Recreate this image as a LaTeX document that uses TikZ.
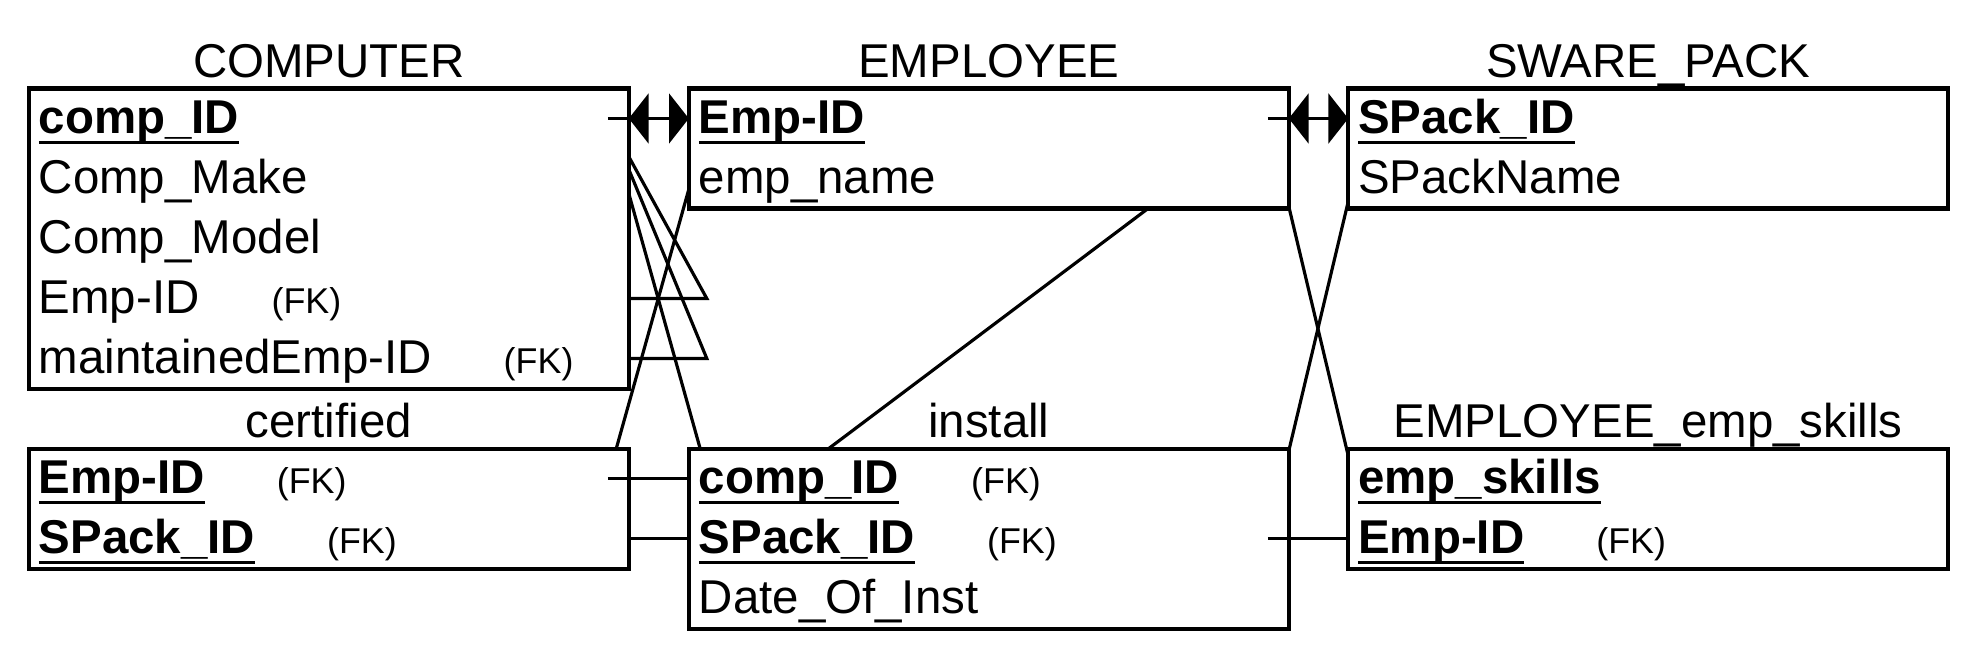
\documentclass[tikz,border=0pt]{standalone}
\usepackage{fontspec}
\setmainfont{Liberation Sans}
\usetikzlibrary{positioning,arrows.meta,backgrounds}

\newcommand{\rowfont}{\fontsize{22.5pt}{27pt}\selectfont}
\newcommand{\fkfont}{\fontsize{17pt}{20pt}\selectfont}
\newsavebox{\pkbox}
\newcommand{\pkey}[1]{\sbox{\pkbox}{\textbf{#1}}%
  \rlap{\rule[-0.17cm]{\wd\pkbox}{1.5pt}}\usebox{\pkbox}}
\newcommand{\fkey}{\hspace{1.2cm}{\fkfont (FK)}}

\begin{document}
\begin{tikzpicture}[
    font=\rowfont,
    tbl/.style={draw, fill=white, line width=1.9pt, minimum width=10cm,
      inner sep=0pt, outer sep=0pt, anchor=north west},
    row/.style={anchor=north, text width=9.666cm, align=left, inner xsep=0.167cm,
      inner ysep=0.1cm, outer sep=0pt, text height=0.65cm, text depth=0.15cm},
    title/.style={inner sep=0pt, text depth=0pt},
    conn/.style={line width=1.5pt},
    onetoone/.style={conn, {Triangle[length=0.33cm,width=0.83cm]}-{Triangle[length=0.33cm,width=0.83cm]}}
  ]
  \useasboundingbox (0,0) rectangle (32.933,-10.933);

  % tables, top line
  \node[tbl, minimum height=5cm] (comp) at (0.48,-1.475) {};
  \node[row] (cp1) at (comp.north) {\pkey{comp\_ID}};
  \node[row, below=0pt of cp1] (cp2) {Comp\_Make};
  \node[row, below=0pt of cp2] (cp3) {Comp\_Model};
  \node[row, below=0pt of cp3] (cp4) {Emp-ID\fkey};
  \node[row, below=0pt of cp4] (cp5) {maintainedEmp-ID\fkey};
  \node[title, above=0.18cm of comp] {COMPUTER};

  \node[tbl, minimum height=2cm] (emp) at (11.48,-1.475) {};
  \node[row] (em1) at (emp.north) {\pkey{Emp-ID}};
  \node[row, below=0pt of em1] (em2) {emp\_name};
  \node[title, above=0.18cm of emp] {EMPLOYEE};

  \node[tbl, minimum height=2cm] (spack) at (22.47,-1.475) {};
  \node[row] (sp1) at (spack.north) {\pkey{SPack\_ID}};
  \node[row, below=0pt of sp1] (sp2) {SPackName};
  \node[title, above=0.18cm of spack] {SWARE\_PACK};

  % tables, bottom line
  \node[tbl, minimum height=2cm] (cert) at (0.48,-7.48) {};
  \node[row] (ct1) at (cert.north) {\pkey{Emp-ID}\fkey};
  \node[row, below=0pt of ct1] (ct2) {\pkey{SPack\_ID}\fkey};
  \node[title, above=0.18cm of cert] {certified};

  \node[tbl, minimum height=3cm] (inst) at (11.48,-7.48) {};
  \node[row] (in1) at (inst.north) {\pkey{comp\_ID}\fkey};
  \node[row, below=0pt of in1] (in2) {\pkey{SPack\_ID}\fkey};
  \node[row, below=0pt of in2] (in3) {Date\_Of\_Inst};
  \node[title, above=0.18cm of inst] {install};

  \node[tbl, minimum height=2cm] (skill) at (22.47,-7.48) {};
  \node[row] (sk1) at (skill.north) {\pkey{emp\_skills}};
  \node[row, below=0pt of sk1] (sk2) {\pkey{Emp-ID}\fkey};
  \node[title, above=0.18cm of skill] {EMPLOYEE\_emp\_skills};

  % ports
  \coordinate (cp1r) at ([xshift=-0.35cm]cp1.east);
  \coordinate (cp4k) at ([xshift=1.3cm]cp4.east);
  \coordinate (cp5k) at ([xshift=1.3cm]cp5.east);
  \coordinate (em1l) at ([xshift=0.33cm]em1.west);
  \coordinate (em1r) at ([xshift=-0.35cm]em1.east);
  \coordinate (sp1l) at ([xshift=0.33cm]sp1.west);
  \coordinate (ct1r) at ([xshift=-0.35cm]ct1.east);
  \coordinate (in1l) at ([xshift=0.33cm]in1.west);
  \coordinate (in2l) at ([xshift=0.33cm]in2.west);
  \coordinate (in2r) at ([xshift=-0.35cm]in2.east);
  \coordinate (sk2l) at ([xshift=0.33cm]sk2.west);

  % links behind the tables
  \begin{pgfonlayer}{background}
    \draw[conn] (cp1r) -- (cp4k) -- (cp4.east);
    \draw[conn] (cp1r) -- (cp5k) -- (cp5.east);
    \draw[conn] (cp1r) -- (in1l);
    \draw[conn] (ct1r) -- (em1l);
    \draw[conn] (em1r) -- (in2l);
    \draw[conn] (em1r) -- (sk2l);
    \draw[conn] (sp1l) -- (in2r);
  \end{pgfonlayer}

  % links on top
  \draw[conn] (cp1r) -- (cp1.east);
  \draw[onetoone] (cp1.east) -- (em1.west);
  \draw[conn] (em1r) -- (em1.east);
  \draw[onetoone] (em1.east) -- (sp1.west);
  \draw[conn] (ct1r) -- (in1.west);
  \draw[conn] (ct2.east) -- (in2.west);
  \draw[conn] (in2r) -- (sk2.west);
\end{tikzpicture}
\end{document}
